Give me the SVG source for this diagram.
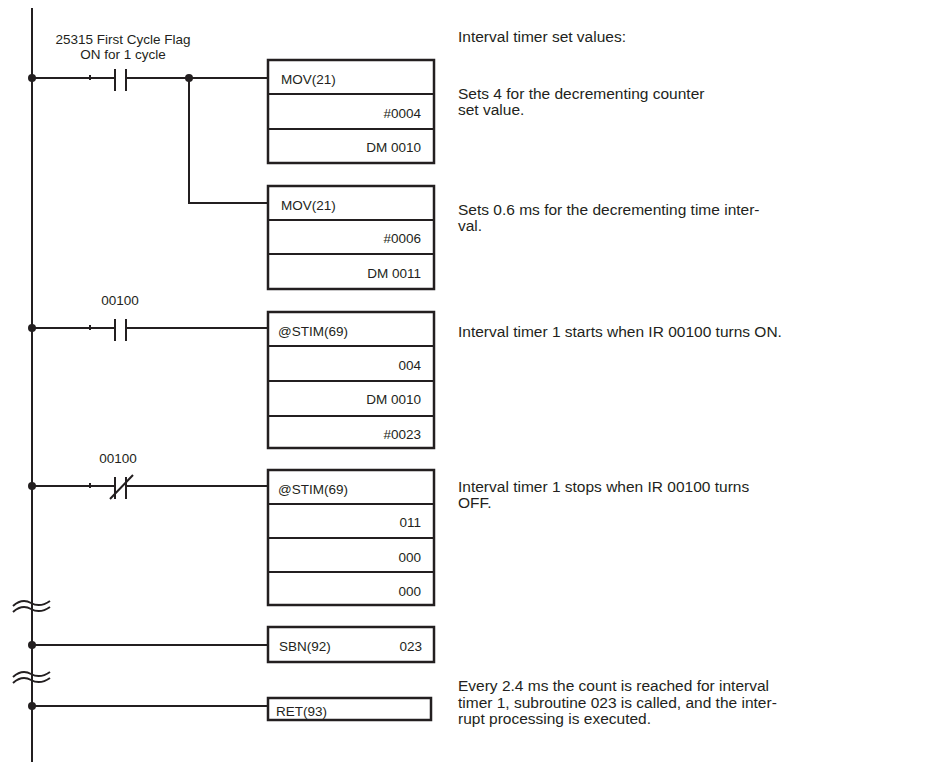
<svg xmlns="http://www.w3.org/2000/svg" width="951" height="768" viewBox="0 0 951 768">
<style>
.l{stroke:#231f20;stroke-width:2;fill:none}
.b{stroke:#231f20;stroke-width:2.5;fill:#fff}
text{font-family:"Liberation Sans",Arial,sans-serif;fill:#231f20}
.s{font-size:13.5px}
.r{font-size:13.5px;text-anchor:end}
.d{font-size:15.5px}
</style>
<rect width="951" height="768" fill="#fff"/>
<g id="connectors">
<path class="l" d="M32 8V762"/>
<path class="l" d="M32 78H115M126 78H268M189 78V203H268M90 75V80"/>
<path class="l" d="M32 328H115M126 328H268M90 325V330"/>
<path class="l" d="M32 486H115M126 486H268M90 483V488"/>
<path class="l" d="M32 645H268M32 706H268"/>
<path class="l" stroke-width="3" d="M115 69V91M126 69V91M115 319V341M126 319V341M115 477V499M126 477V499M110 499L133 475"/>
<path class="l" d="M13 606q9-8 18-3t19-2M13 612q9-8 18-3t19-2M13 677q9-8 18-3t19-2M13 683q9-8 18-3t19-2"/>
<g fill="#231f20"><circle cx="32" cy="78" r="4"/><circle cx="189" cy="78" r="4"/><circle cx="32" cy="328" r="4"/><circle cx="32" cy="486" r="4"/><circle cx="32" cy="645" r="4"/><circle cx="32" cy="706" r="4"/></g>
</g>
<g id="c1"><text class="s" x="123" y="44" text-anchor="middle">25315 First Cycle Flag</text><text class="s" x="123" y="59" text-anchor="middle">ON for 1 cycle</text></g>
<g id="c2"><text class="s" x="120" y="305" text-anchor="middle">00100</text></g>
<g id="c3"><text class="s" x="118" y="463" text-anchor="middle">00100</text></g>
<g id="mov1"><rect class="b" x="268" y="60" width="166" height="103"/><path class="l" d="M268 94H434M268 129H434"/><text class="s" x="281" y="84">MOV(21)</text><text class="r" x="421" y="118">#0004</text><text class="r" x="421" y="152">DM 0010</text></g>
<g id="mov2"><rect class="b" x="268" y="186" width="166" height="103"/><path class="l" d="M268 220H434M268 254H434"/><text class="s" x="281" y="210">MOV(21)</text><text class="r" x="421" y="243">#0006</text><text class="r" x="421" y="278">DM 0011</text></g>
<g id="stim1"><rect class="b" x="268" y="312" width="166" height="136"/><path class="l" d="M268 346H434M268 381H434M268 416H434"/><text class="s" x="278" y="336">@STIM(69)</text><text class="r" x="421" y="370">004</text><text class="r" x="421" y="404">DM 0010</text><text class="r" x="421" y="439">#0023</text></g>
<g id="stim2"><rect class="b" x="268" y="470" width="166" height="135"/><path class="l" d="M268 504H434M268 538H434M268 572H434"/><text class="s" x="278" y="494">@STIM(69)</text><text class="r" x="421" y="527">011</text><text class="r" x="421" y="562">000</text><text class="r" x="421" y="596">000</text></g>
<g id="sbn"><rect class="b" x="268" y="627" width="166" height="35"/><text class="s" x="279" y="651">SBN(92)</text><text class="r" x="422" y="651">023</text></g>
<g id="ret"><rect class="b" x="268" y="698" width="163" height="22"/><text class="s" x="276" y="716">RET(93)</text></g>
<g id="notes" class="d">
<text x="458" y="42">Interval timer set values:</text>
<text x="458" y="99">Sets 4 for the decrementing counter</text><text x="458" y="115">set value.</text>
<text x="458" y="215">Sets 0.6 ms for the decrementing time inter-</text><text x="458" y="231">val.</text>
<text x="458" y="337">Interval timer 1 starts when IR 00100 turns ON.</text>
<text x="458" y="492">Interval timer 1 stops when IR 00100 turns</text><text x="458" y="508">OFF.</text>
<text x="458" y="691">Every 2.4 ms the count is reached for interval</text><text x="458" y="708">timer 1, subroutine 023 is called, and the inter-</text><text x="458" y="724">rupt processing is executed.</text>
</g>
</svg>
